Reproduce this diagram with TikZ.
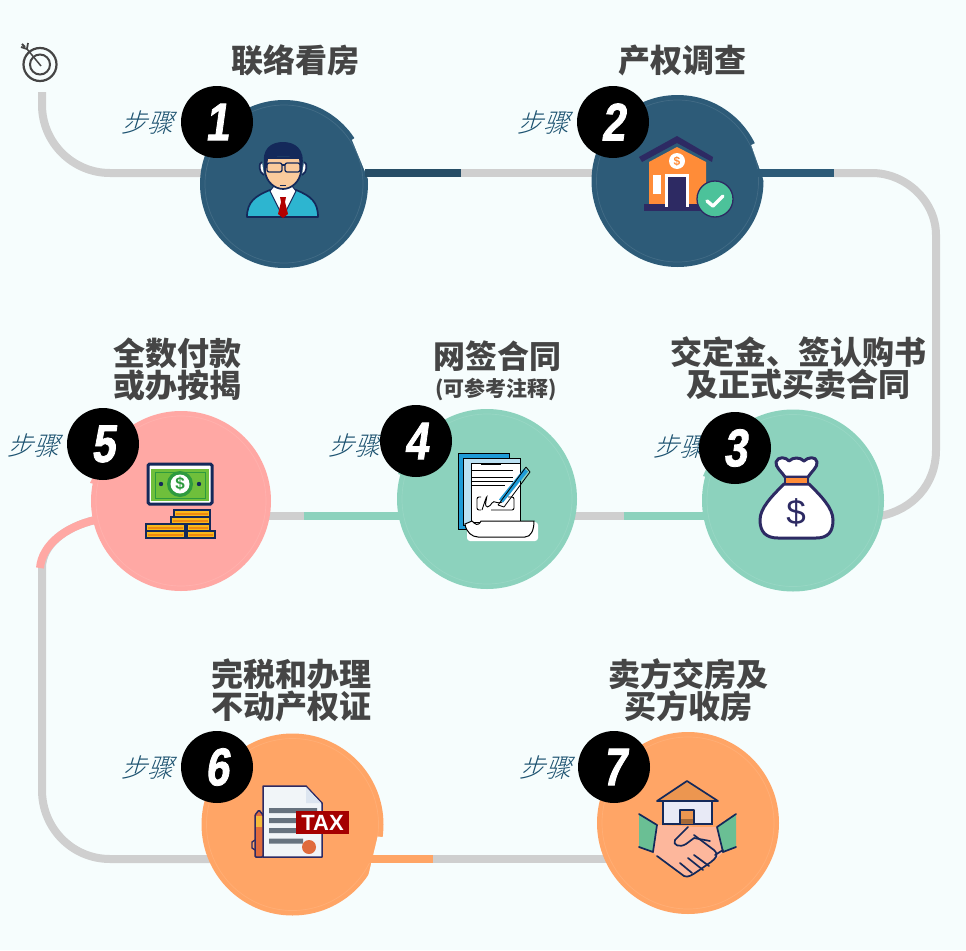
\documentclass[tikz,border=0pt]{standalone}
\usepackage{fontspec}
\newfontfamily\cjk{Noto Sans CJK SC}
\newfontfamily\cjkslant[FakeSlant=0.3]{Noto Sans CJK SC Light}
\newfontfamily\numfont[FakeSlant=0.14,FakeStretch=0.8,FakeBold=1.5]{Liberation Sans}
\setmainfont{Liberation Sans}
\definecolor{bg}{HTML}{F6FDFD}
\definecolor{trackc}{HTML}{CFCFCF}
\definecolor{teal}{HTML}{2D5B78}
\definecolor{wordc}{HTML}{1C5270}
\definecolor{mint}{HTML}{8CD2BD}
\definecolor{pinkc}{HTML}{FFA8A4}
\definecolor{orangec}{HTML}{FFA566}
\definecolor{headc}{HTML}{454545}
\definecolor{navy}{HTML}{14295A}
\definecolor{ink}{HTML}{2D2A63}
\definecolor{suit}{HTML}{2DB5D0}
\definecolor{skin}{HTML}{FBCB9C}
\definecolor{houseo}{HTML}{FF8C38}
\definecolor{checkg}{HTML}{4CC29A}
\definecolor{sheetb}{HTML}{1E9BD7}
\definecolor{billg}{HTML}{6FBF3B}
\definecolor{billd}{HTML}{2E9A3E}
\definecolor{goldc}{HTML}{F9B91A}
\definecolor{goldd}{HTML}{EE8A10}
\definecolor{paperc}{HTML}{F1F5F8}
\definecolor{foldc}{HTML}{DCE5F0}
\definecolor{linec}{HTML}{67737F}
\definecolor{taxr}{HTML}{A50000}
\definecolor{sealc}{HTML}{E06B3C}
\definecolor{peny}{HTML}{F5B93A}
\definecolor{roofc}{HTML}{EC9650}
\definecolor{wallc}{HTML}{E8EAF6}
\definecolor{cuffc}{HTML}{6ABF94}
\definecolor{handc}{HTML}{FDB79C}
% disc number, radius, start angle, depth, span
\newcommand\notchat[5]{\fill[bg] ([shift={(#3:#2-#4)}]c#1.center) -- ([shift={(#3:#2+4)}]c#1.center) -- ([shift={(#3+#5:#2+4)}]c#1.center) -- ([shift={(#3+#5:#2+0.4)}]c#1.center) -- cycle;}
\tikzset{
  track/.style={draw=trackc,line width=8pt},
  seg/.style={line width=8pt},
  disc/.style={circle,inner sep=0pt,minimum size=#1},
  badge/.style={circle,fill=black,inner sep=0pt,minimum size=72pt,text=white,font=\numfont\bfseries\fontsize{53}{53}\selectfont},
  stepword/.style={text=wordc,font=\cjkslant\fontsize{26}{26}\selectfont,inner sep=0pt},
  head/.style={text=headc,align=center,inner sep=0pt,font=\cjk\bfseries\fontsize{32}{32}\selectfont},
  ring/.style={draw=white,draw opacity=.1,line width=.7pt},
  iconline/.style={draw=navy,line width=1.7pt,line join=round},
}
\begin{document}
\begin{tikzpicture}[x=1pt,y=-1pt]
\useasboundingbox (0,0) rectangle (966,950);
\fill[bg] (0,0) rectangle (966,950);
% track anchor points
\coordinate (start) at (42,92);
\coordinate (t1) at (210,173);
\coordinate (t2) at (600,173);
\coordinate (t1r) at (365,173);
\coordinate (t1e) at (461,173);
\coordinate (t2r) at (755,173);
\coordinate (t2e) at (834,173);
\coordinate (t3) at (880,516);
\coordinate (t3l) at (706,516);
\coordinate (t3e) at (624,516);
\coordinate (t4r) at (570,516);
\coordinate (t4l) at (402,516);
\coordinate (t4e) at (304,516);
\coordinate (t5r) at (265,516);
\coordinate (t5l) at (95,520);
\coordinate (t5e) at (42,568);
\coordinate (t6l) at (210,859);
\coordinate (t6r) at (368,859);
\coordinate (t6e) at (433,859);
\coordinate (t7) at (606,859);
% grey track
\draw[track] (start) -- (42,105) .. controls (42,142.4) and (72.6,173) .. (110,173) -- (t1);
\draw[track] (t1e) -- (t2);
\draw[track] (t2e) -- (872,173) .. controls (905.5,173) and (936,201) .. (936,235) -- (936,450) .. controls (936,485) and (912,510) .. (t3);
\draw[track] (t3e) -- (t4r);
\draw[track] (t4e) -- (t5r);
\draw[track] (t5l) .. controls (65,527) and (42,545) .. (t5e) -- (42,790) .. controls (42,828) and (72,859) .. (110,859) -- (t6l);
\draw[track] (t6e) -- (t7);
% coloured parts of the track
\draw[seg,draw=mint] (t3l) -- (t3e);
\draw[seg,draw=mint] (t4l) -- (t4e);
\draw[seg,draw=pinkc] (t5l) .. controls (65,527) and (42,545) .. (40,568);
% small tips of the discs
\fill[mint] (703,476) -- (713,454) -- (716,480) -- cycle;
\fill[mint] (398,474) -- (408,455) -- (412,478) -- cycle;
\fill[pinkc] (90,483) -- (100,462) -- (104,486) -- cycle;
% discs
\node[disc=168pt,fill=teal] (c1) at (284,184) {};
\node[disc=172pt,fill=teal] (c2) at (677.5,181) {};
\node[disc=182pt,fill=mint] (c3) at (793,500.5) {};
\node[disc=180pt,fill=mint] (c4) at (487,499) {};
\node[disc=180pt,fill=pinkc] (c5) at (181,501) {};
\node[disc=182pt,fill=orangec] (c6) at (292.5,824.5) {};
\node[disc=182pt,fill=orangec] (c7) at (688,823) {};
\notchat{1}{84}{-33}{3}{30}
\notchat{2}{86}{-26}{4}{26}
\notchat{6}{91}{8}{5}{26}
\foreach \n/\r in {1/79,2/81,3/86,4/85,5/85,6/86,7/86}{
  \draw[ring] (c\n.center) circle[radius=\r];
}
% coloured track parts leaving the upper discs and disc 6
\draw[seg,draw=teal!85!black] (t1r) -- (t1e);
\draw[seg,draw=teal] (t2r) -- (t2e);
\draw[seg,draw=orangec] (t6r) -- (t6e);
% headings
\node[head] (h1) at (295,60) {联络看房};
\node[head] (h2) at (682,60) {产权调查};
\node[head] (h3) at (798,368) {交定金、签认购书\\及正式买卖合同};
\node[head] (h4) at (497,356) {网签合同};
\node[text=headc,inner sep=0pt,font=\cjk\bfseries\fontsize{21}{21}\selectfont] (h4b) at (496,389) {(可参考注释)};
\node[head] (h5) at (177,369) {全数付款\\或办按揭};
\node[head] (h6) at (291,690) {完税和办理\\不动产权证};
\node[head] (h7) at (688,690) {卖方交房及\\买方收房};
% step words
\node[stepword] (w1) at (147,123) {步骤};
\node[stepword] (w2) at (543,123) {步骤};
\node[stepword] (w3) at (679,447) {步骤};
\node[stepword] (w4) at (354,446) {步骤};
\node[stepword] (w5) at (34,446) {步骤};
\node[stepword] (w6) at (147,768) {步骤};
\node[stepword] (w7) at (545,768) {步骤};
% badges
\node[badge] (b1) at (217,122) {1};
\node[badge] (b2) at (613,122) {2};
\node[badge] (b3) at (735,448) {3};
\node[badge] (b4) at (416,441) {4};
\node[badge] (b5) at (103,444) {5};
\node[badge] (b6) at (217,767) {6};
\node[badge] (b7) at (614,767) {7};
% target icon
\draw[headc,line width=2.2pt] (40,64.5) circle[radius=16.5];
\draw[headc,line width=2pt] (40,64.5) circle[radius=10];
\draw[headc,line width=1.5pt] (41,66) -- (27,49);
\draw[headc,line width=1.8pt] (27,49) -- (21,47) (27,49) -- (28,43) (25,47) -- (22,44);
% person
\draw[iconline,fill=white] (262,162) .. controls (258,163) and (259,173) .. (264,175);
\draw[iconline,fill=white] (304,162) .. controls (308,163) and (307,173) .. (302,175);
\draw[iconline,fill=suit] (247,217) .. controls (247,202) and (255,196) .. (270,190) -- (296,190) .. controls (311,196) and (318,202) .. (318,217) -- cycle;
\draw[draw=navy,line width=1pt,fill=white] (270,191) -- (274,186) -- (292,186) -- (296,191) -- (283,217) -- cycle;
\fill[red!70!black] (280,197) -- (286,197) -- (285,202) -- (288,214) -- (283,218) -- (278,214) -- (281,202) -- cycle;
\draw[iconline,fill=skin] (265,158) -- (265,171) .. controls (266,182) and (275,189) .. (283,189) .. controls (291,189) and (300,182) .. (301,171) -- (301,158) -- cycle;
\fill[navy] (265,168) .. controls (260,148) and (272,142) .. (283,142) .. controls (294,142) and (306,148) .. (302,168) -- (300,168) -- (299,158) .. controls (290,156) and (276,156) .. (268,158) -- (267,168) -- cycle;
\draw[draw=navy,line width=1.3pt,rounded corners=2pt] (267,163) rectangle (282,172);
\draw[draw=navy,line width=1.3pt,rounded corners=2pt] (285,163) rectangle (300,172);
\draw[draw=navy,line width=1.3pt] (282,165) -- (285,165);
\draw[draw=navy,line width=.8pt] (280,185) -- (286,185);
% house
\fill[houseo] (649,162) -- (677,147) -- (706,162) -- (706,207) -- (649,207) -- cycle;
\fill[ink] (639,157) -- (677,136) -- (713,157) -- (712,162) -- (677,143) -- (642,162) -- cycle;
\fill[ink] (644,204) rectangle (707,211);
\fill[white] (665,174) rectangle (689,207);
\fill[ink] (668,177) rectangle (686,207);
\fill[white] (653,175) rectangle (661,194);
\node[circle,fill=white,inner sep=0pt,minimum size=16pt,text=houseo,font=\fontsize{12}{12}\selectfont\bfseries] (hd) at (677,161) {\$};
\node[circle,fill=checkg,draw=ink,line width=1.3pt,inner sep=0pt,minimum size=36pt] (hc) at (715,199) {};
\draw[white,line width=3.5pt,line cap=round,line join=round] (707,201) -- (713,206) -- (723,196);
% money bag
\draw[ink,line width=3pt,fill=white,line join=round] (784,484) .. controls (772,496) and (760,508) .. (760,520) .. controls (760,532) and (766,538) .. (778,538) -- (816,538) .. controls (828,538) and (833,532) .. (833,520) .. controls (833,508) and (821,496) .. (809,484) -- cycle;
\draw[ink,line width=3pt,fill=white,line join=round] (785,477) .. controls (782,472) and (775,467) .. (776,462) .. controls (778,456) and (786,457) .. (789,461) .. controls (793,457) and (800,457) .. (804,461) .. controls (808,457) and (816,456) .. (817,462) .. controls (818,467) and (811,472) .. (808,477) -- cycle;
\draw[ink,line width=1.5pt,fill=houseo] (785,477) rectangle (808,484);
\node[inner sep=0pt,text=ink,font=\fontsize{35}{35}\selectfont] (bagd) at (796,513) {\$};
% contract
\fill[sheetb,draw=black,line width=.8pt] (458,453) rectangle (509,529);
\fill[white!70!sheetb,draw=black,line width=.8pt] (463,458) rectangle (520,525);
\fill[white,rounded corners=3pt] (467,522) rectangle (538,541);
\fill[white,draw=black,line width=.8pt] (471,463) rectangle (520,522);
\draw[black,line width=.9pt] (481,464) -- (501,464) (472,470) -- (513,470) (472,477) -- (513,477) (472,481) -- (513,481) (472,485) -- (505,485);
\draw[black,line width=.9pt,rounded corners=2pt] (481,497) -- (477,497) -- (477,510) -- (481,510) (491,510) -- (514,510) -- (514,497) -- (508,497);
\draw[black,line width=.9pt] (482,510) .. controls (486,498) and (488,492) .. (486,501) .. controls (484,510) and (490,507) .. (492,503) .. controls (494,499) and (498,506) .. (503,501);
\draw[sheetb,line width=5pt] (501,501) -- (526,470);
\draw[black,line width=.8pt] (498,505) -- (526,467) (504,507) -- (530,472) (526,467) -- (530,472) (498,505) -- (504,507);
\fill[white,draw=black,line width=1pt] (481,521) -- (534,521) .. controls (534,530) and (531,537) .. (525,537) -- (478,537) .. controls (472,537) and (466,532) .. (465,524) -- (472,521) .. controls (475,524) and (478,527) .. (481,521) -- cycle;
% bank note
\fill[white,draw=navy,line width=3pt,rounded corners=1.5pt] (148,464) rectangle (212,504);
\fill[billg] (151,469) rectangle (209,501);
\draw[billd,line width=1pt] (155,472) rectangle (205,498);
\fill[billd] (180,484) circle[radius=13];
\fill[white] (180,484) circle[radius=9.5];
\node[inner sep=0pt,text=billd,font=\bfseries\fontsize{17}{17}\selectfont] (nd) at (180,484) {\$};
\fill[navy] (161,484) circle[radius=2.2] (199,484) circle[radius=2.2];
\foreach \xa/\ya/\xb/\yb in {174/510/210/517,171/517/210/524,146/524/185/531,187/524/210/531,146/531/185/538,187/531/215/538}{
  \fill[goldc,draw=navy,line width=2pt] (\xa,\ya) rectangle (\xb,\yb);
  \fill[goldd] (\xa+2,\ya+2.5) rectangle (\xb-2,\yb-2.5);
}
% tax paper
\fill[paperc,draw=ink,line width=1.5pt,line join=round] (263,786) -- (306,786) -- (322,803) -- (322,857) -- (263,857) -- cycle;
\fill[foldc] (306,787) -- (306,803) -- (321,803) -- cycle;
\fill[linec] (269,808) rectangle (317,813) (269,818) rectangle (317,823) (269,828) rectangle (317,833) (269,838.5) rectangle (303,843.5);
\node[fill=taxr,minimum width=53pt,minimum height=23pt,inner sep=0pt,text=white,font=\bfseries\fontsize{22}{22}\selectfont] (tx) at (322.5,822.5) {TAX};
\fill[sealc] (309,847) circle[radius=7];
\fill[sealc,draw=ink,line width=1.5pt,rounded corners=1pt] (255,828) -- (255,815) -- (259,810) -- (263,815) -- (263,857) -- (255,857) -- cycle;
\fill[peny] (256,816) rectangle (262,827);
\draw[ink,line width=1.3pt] (255,840) -- (252,842) -- (252,848) -- (255,850);
% handshake
\fill[roofc] (657,801) -- (687,781) -- (718,801) -- cycle;
\draw[iconline] (657,801) -- (687,781) -- (718,801) -- cycle;
\fill[wallc,draw=navy,line width=1.5pt] (663,801) rectangle (712,824);
\fill[roofc] (680,810) rectangle (694,824);
\fill[roofc!70!black] (680,819) rectangle (694,824);
\draw[iconline] (680,824) -- (680,810) -- (694,810) -- (694,824);
\fill[handc] (657,825) -- (697,827) -- (717,827) -- (723,852) -- (717,858) -- (687,877) -- (657,856) -- (653,852) -- cycle;
\fill[cuffc] (639,814) -- (657,825) -- (653,852) -- (639,847) -- cycle;
\fill[cuffc] (736,814) -- (717,827) -- (723,852) -- (736,847) -- cycle;
\draw[iconline,line cap=round] (639,814) -- (657,825) -- (653,852) -- (639,847);
\draw[iconline,line cap=round] (736,814) -- (717,827) -- (723,852) -- (736,847);
\draw[iconline,line cap=round] (657,856) -- (684,876) .. controls (688,878) and (692,875) .. (698,871) -- (711,862) .. controls (716,858) and (719,855) .. (714,850) -- (694,835);
\draw[iconline,line cap=round] (688,827) -- (675,840) .. controls (672,845) and (680,848) .. (686,844) -- (694,838) -- (710,841);
\draw[iconline,line cap=round] (715,855) -- (723,850);
\draw[iconline,line cap=round] (688,858) -- (703,870) (680,863) -- (692,873) (694,855) -- (709,866);
\end{tikzpicture}
\end{document}
